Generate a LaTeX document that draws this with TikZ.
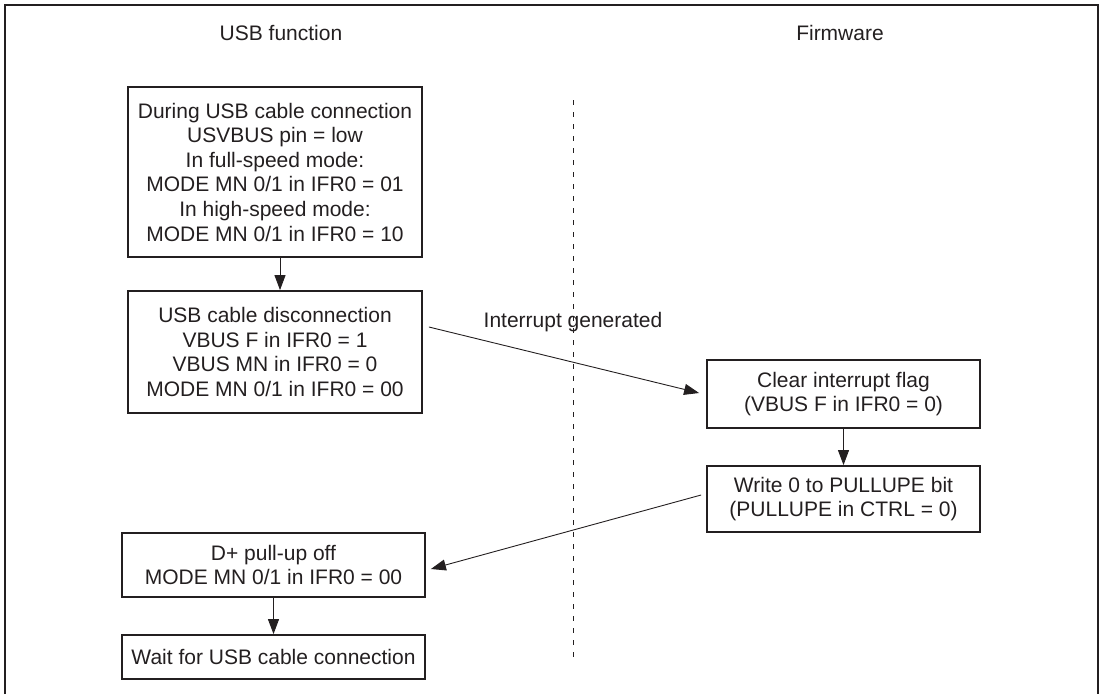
\documentclass[tikz,border=0pt]{standalone}
\usepackage{fontspec}
\setmainfont{Liberation Sans}
\usetikzlibrary{arrows.meta,calc}
\definecolor{ink}{HTML}{231F20}
\begin{document}
\begin{tikzpicture}[x=1pt,y=-1pt,
  font=\fontsize{21}{24.6}\selectfont, text=ink,
  box/.style={draw=ink, line width=1.8pt, rectangle, inner sep=0pt, align=center},
  conn/.style={draw=ink, line width=0.9pt, -{Triangle[length=15pt,width=11pt]}},
  hdr/.style={anchor=base, inner sep=0pt}]
\useasboundingbox (0,0) rectangle (1102,694);
% outer frame
\draw[ink, line width=2pt] (5,694) -- (5,5) -- (1098,5) -- (1098,694);
% headers
\node[hdr] (h1) at (281,40.5) {USB function};
\node[hdr] (h2) at (840,40.5) {Firmware};
% separator
\draw[ink, line width=1pt, dash pattern=on 5pt off 7pt] (573,100) -- (573,662);
% boxes
\node[box, minimum width=294pt, minimum height=170pt] (b1) at (275,172)
  {During USB cable connection\\USVBUS pin = low\\In full-speed mode:\\MODE MN 0/1 in IFR0 = 01\\In high-speed mode:\\MODE MN 0/1 in IFR0 = 10};
\node[box, minimum width=294pt, minimum height=122pt] (b2) at (275,352)
  {USB cable disconnection\\VBUS F in IFR0 = 1\\VBUS MN in IFR0 = 0\\MODE MN 0/1 in IFR0 = 00};
\node[box, minimum width=273pt, minimum height=68pt] (b3) at (843.5,394)
  {Clear interrupt flag\\(VBUS F in IFR0 = 0)};
\node[box, minimum width=273pt, minimum height=66pt] (b4) at (843.5,499)
  {Write 0 to PULLUPE bit\\(PULLUPE in CTRL = 0)};
\node[box, minimum width=303pt, minimum height=64pt] (b5) at (273.5,565)
  {D+ pull-up off\\MODE MN 0/1 in IFR0 = 00};
\node[box, minimum width=303pt, minimum height=44pt] (b6) at (273.5,657)
  {Wait for USB cable connection};
% connectors
\draw[conn] ([xshift=5pt]b1.south) -- ([xshift=5pt]b2.north);
\draw[conn] ($(b2.east)+(6,-25)$) -- ($(b3.west)+(-7,-1)$);
\node[hdr] (lab) at (573,327) {Interrupt generated};
\draw[conn] (b3.south) -- (b4.north);
\draw[conn] ($(b4.west)+(-5,-4)$) -- ($(b5.east)+(5,4)$);
\draw[conn] (b5.south) -- (b6.north);
\end{tikzpicture}
\end{document}
